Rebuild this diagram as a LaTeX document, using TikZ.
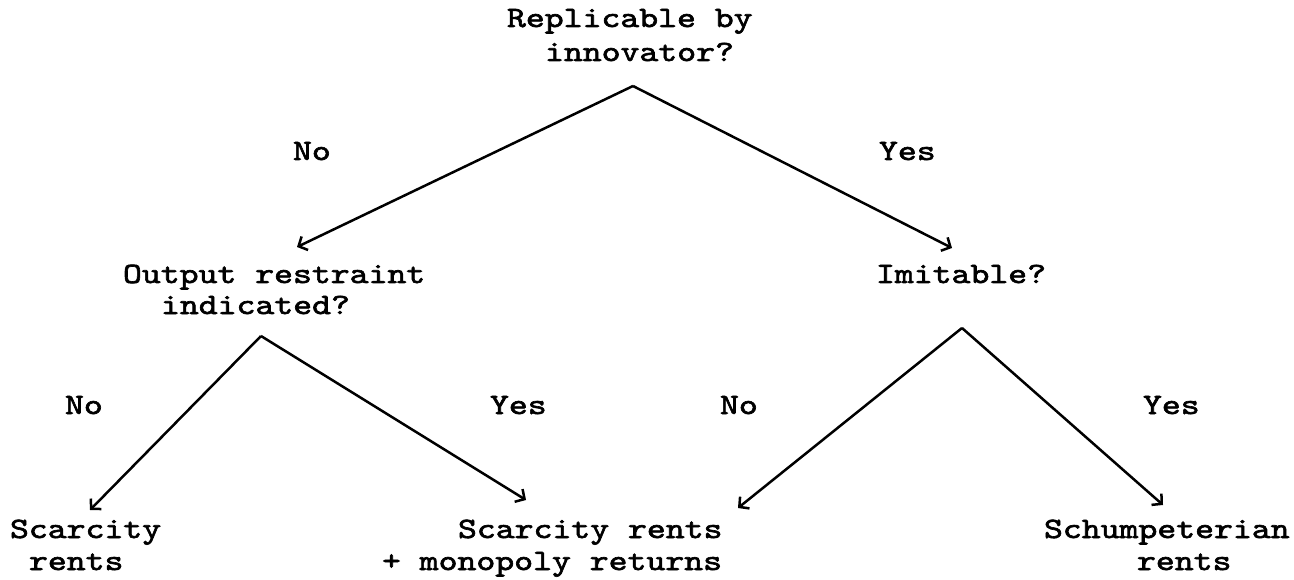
\documentclass[tikz,border=0pt]{standalone}
\usepackage{fontspec}
\newfontfamily\tw{lmmono10-regular.otf}[FakeStretch=1.22,FakeBold=2.2]
\usetikzlibrary{arrows.meta}
\begin{document}
\begin{tikzpicture}[x=1pt,y=-1pt,
  lbl/.style={font=\tw\fontsize{29.5}{35}\selectfont, anchor=base west, inner sep=0pt, outer sep=0pt},
  conn/.style={line width=2.5pt, -{Straight Barb[length=7pt,width=15pt,line width=2.5pt]}}]
\useasboundingbox (0,0) rectangle (1294,580);
\node[lbl] (q1a) at (507,27) {Replicable by};
\node[lbl] (q1b) at (545,61) {innovator?};
\node[lbl] (no1) at (293,160) {No};
\node[lbl] (yes1) at (879,160) {Yes};
\node[lbl] (q2a) at (123,283) {Output restraint};
\node[lbl] (q2b) at (161,314) {indicated?};
\node[lbl] (q3) at (876,283) {Imitable?};
\node[lbl] (no2) at (65,414) {No};
\node[lbl] (yes2) at (490,414) {Yes};
\node[lbl] (no3) at (720,414) {No};
\node[lbl] (yes3) at (1143,414) {Yes};
\node[lbl] (r1a) at (10,538) {Scarcity};
\node[lbl] (r1b) at (29,570) {rents};
\node[lbl] (r2a) at (458,538) {Scarcity rents};
\node[lbl] (r2b) at (382,570) {+ monopoly returns};
\node[lbl] (r3a) at (1044,538) {Schumpeterian};
\node[lbl] (r3b) at (1137,570) {rents};
\coordinate (a1) at (633,86);
\coordinate (t11) at (297,247);
\coordinate (t12) at (952,248);
\coordinate (a2) at (261,336);
\coordinate (a3) at (962,328);
\coordinate (t21) at (90,510);
\coordinate (t22) at (526,500);
\coordinate (t31) at (738,508);
\coordinate (t32) at (1163,505);
\draw[conn] (a1) -- (t11);
\draw[conn] (a1) -- (t12);
\draw[conn] (a2) -- (t21);
\draw[conn] (a2) -- (t22);
\draw[conn] (a3) -- (t31);
\draw[conn] (a3) -- (t32);
\end{tikzpicture}
\end{document}
